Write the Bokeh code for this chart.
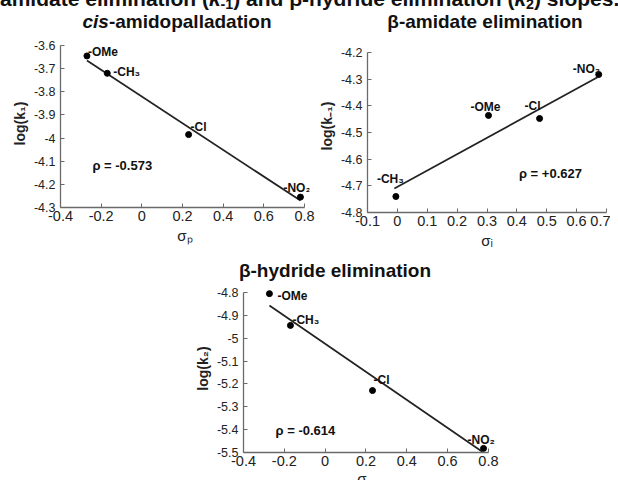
from bokeh.plotting import figure
from bokeh.layouts import column, row
from bokeh.models import Div, Spacer, FixedTicker, Label, ColumnDataSource, Range1d
from bokeh.embed import file_html
from bokeh.resources import INLINE
from bokeh.core.properties import value

FONT = "Liberation Sans"

# ---------------- data ----------------
# panel 1: cis-amidopalladation, log(k1) vs sigma_p
p1_labels = ["-OMe", "-CH\u2083", "-Cl", "-NO\u2082"]
p1_sigma = [-0.27, -0.17, 0.23, 0.78]
p1_logk = [-3.645, -3.72, -3.985, -4.255]
p1_fit_x = [-0.27, 0.78]
p1_fit_y = [-3.665, -4.27]
p1_rho = "\u03c1 = -0.573"
p1_xticks = [-0.4, -0.2, 0, 0.2, 0.4, 0.6, 0.8]
p1_xlabels = ["-0.4", "-0.2", "0", "0.2", "0.4", "0.6", "0.8"]
p1_yticks = [-4.3, -4.2, -4.1, -4.0, -3.9, -3.8, -3.7, -3.6]
p1_ylabels = ["-4.3", "-4.2", "-4.1", "-4", "-3.9", "-3.8", "-3.7", "-3.6"]

# panel 2: beta-amidate elimination, log(k-1) vs sigma_I
p2_labels = ["-CH\u2083", "-OMe", "-Cl", "-NO\u2082"]
p2_sigma = [-0.005, 0.305, 0.476, 0.674]
p2_logk = [-4.74, -4.436, -4.4475, -4.2825]
p2_fit_x = [-0.01, 0.67]
p2_fit_y = [-4.71, -4.293]
p2_rho = "\u03c1 = +0.627"
p2_xticks = [-0.1, 0, 0.1, 0.2, 0.3, 0.4, 0.5, 0.6, 0.7]
p2_xlabels = ["-0.1", "0", "0.1", "0.2", "0.3", "0.4", "0.5", "0.6", "0.7"]
p2_yticks = [-4.8, -4.7, -4.6, -4.5, -4.4, -4.3, -4.2]
p2_ylabels = ["-4.8", "-4.7", "-4.6", "-4.5", "-4.4", "-4.3", "-4.2"]

# panel 3: beta-hydride elimination, log(k2) vs sigma_p
p3_labels = ["-OMe", "-CH\u2083", "-Cl", "-NO\u2082"]
p3_sigma = [-0.273, -0.17, 0.232, 0.776]
p3_logk = [-4.805, -4.944, -5.229, -5.482]
p3_fit_x = [-0.273, 0.77]
p3_fit_y = [-4.857, -5.497]
p3_rho = "\u03c1 = -0.614"
p3_xticks = [-0.4, -0.2, 0, 0.2, 0.4, 0.6, 0.8]
p3_xlabels = ["-0.4", "-0.2", "0", "0.2", "0.4", "0.6", "0.8"]
p3_yticks = [-5.5, -5.4, -5.3, -5.2, -5.1, -5.0, -4.9, -4.8]
p3_ylabels = ["-5.5", "-5.4", "-5.3", "-5.2", "-5.1", "-5", "-4.9", "-4.8"]

# ---------------- styling / layout (pixel offsets of point labels) ----------------
p1_dx = [1, 6, 2, -17]
p1_dy = [-4, -1, -8, -9]
p2_dx = [-19, -18, -15, -26]
p2_dy = [-18, -8, -13, -6]
p3_dx = [8, 2, 1, -16]
p3_dy = [2, -5, -11, -8]

AX = "#6a6a6a"


def panel(w, h, bl, br, bt, bb, xr, yr, xticks, xlabels, yticks, ylabels,
          sig, logk, labs, dx, dy, fx, fy, ylab, xlab):
    p = figure(width=w, height=h, output_backend="svg", toolbar_location=None,
               x_range=Range1d(*xr), y_range=Range1d(*yr), margin=0,
               min_border_left=bl, min_border_right=br, min_border_top=bt, min_border_bottom=bb)
    p.grid.visible = False
    p.outline_line_color = None
    for ax in (p.xaxis[0], p.yaxis[0]):
        ax.axis_line_color = AX
        ax.axis_line_width = 1.3
        ax.major_tick_line_color = AX
        ax.major_tick_in = 4
        ax.major_tick_out = 0
        ax.minor_tick_line_color = None
        ax.major_label_text_font = FONT
        ax.major_label_text_color = "#222222"
        ax.axis_label_text_font = FONT
        ax.axis_label_text_font_style = "bold"
        ax.axis_label_text_color = "#222222"
    p.xaxis.bounds = (xr[0], xticks[-1])
    p.yaxis.bounds = (yr[0], yticks[-1])
    p.xaxis.ticker = FixedTicker(ticks=xticks)
    p.xaxis.major_label_overrides = {t: s for t, s in zip(xticks, xlabels)}
    p.yaxis.ticker = FixedTicker(ticks=yticks)
    p.yaxis.major_label_overrides = {t: s for t, s in zip(yticks, ylabels)}
    p.xaxis.major_label_text_font_size = "14.5px"
    p.yaxis.major_label_text_font_size = "12.5px"
    p.xaxis.major_label_standoff = 3
    p.yaxis.major_label_standoff = 5
    p.yaxis.axis_label = ylab
    p.yaxis.axis_label_text_font_size = "14px"
    p.yaxis.axis_label_standoff = 3
    if xlab:
        p.xaxis.axis_label = xlab
        p.xaxis.axis_label_text_font_size = "15px"
        p.xaxis.axis_label_text_font_style = "normal"
        p.xaxis.axis_label_standoff = 3

    p.line(fx, fy, line_color="#222222", line_width=1.7)
    p.scatter(sig, logk, size=6, color="black")
    src = ColumnDataSource(dict(x=sig, y=logk, t=labs, dx=dx, dy=dy))
    p.text(x="x", y="y", text="t", x_offset="dx", y_offset="dy", source=src,
           text_font=value(FONT), text_font_style="bold", text_font_size="12px",
           text_color="#111111", text_baseline="alphabetic", text_align="left")
    return p


# p1: frame 60..309 x 39..207 ; p2: frame 363..606 x 39..212 ; p3: frame 243..501 x 284..452
p1 = panel(307, 219, 52, 6, 6, 45, (-0.4, 0.8246), (-4.3, -3.574), p1_xticks, p1_xlabels,
           p1_yticks, p1_ylabels, p1_sigma, p1_logk, p1_labels, p1_dx, p1_dy,
           p1_fit_x, p1_fit_y, "log(k\u2081)", "\u03c3\u209a")
p2 = panel(295, 219, 48, 4, 6, 40, (-0.1, 0.7), (-4.8, -4.15125), p2_xticks, p2_xlabels,
           p2_yticks, p2_ylabels, p2_sigma, p2_logk, p2_labels, p2_dx, p2_dy,
           p2_fit_x, p2_fit_y, "log(k\u208b\u2081)", "\u03c3\u1d62")
p3 = panel(317, 189, 55, 4, 2, 19, (-0.4, 0.864), (-5.5, -4.765), p3_xticks, p3_xlabels,
           p3_yticks, p3_ylabels, p3_sigma, p3_logk, p3_labels, p3_dx, p3_dy,
           p3_fit_x, p3_fit_y, "log(k\u2082)", None)

lab = dict(text_font=FONT, text_font_style="bold", text_color="#111111")
p1.add_layout(Label(x=-0.243, y=-4.153, text=p1_rho, text_font_size="13px", **lab))
p2.add_layout(Label(x=0.407, y=-4.68, text=p2_rho, text_font_size="13px", **lab))
p3.add_layout(Label(x=-0.243, y=-5.435, text=p3_rho, text_font_size="13px", **lab))

TSTYLE = ("position:absolute; white-space:nowrap; transform:translateX(-50%); "
          "font-family:'Liberation Sans'; font-weight:bold; font-size:19px; line-height:19px; color:#111;")
SUB = '<span style="font-size:0.68em; vertical-align:-0.2em; line-height:0">'

t1 = Div(text=(
    '<div style="position:relative; width:602px; height:25px;">'
    '<div style="position:absolute; left:-8px; top:-20px; white-space:nowrap; '
    'font-family:\'Liberation Sans\'; font-weight:bold; font-size:21px; line-height:21px; color:#111;">'
    'amidate elimination (<i>k</i>' + SUB + '-1</span>) and \u03b2-hydride elimination '
    '(<i>k</i>' + SUB + '2</span>) slopes.</div>'
    '<div style="left:169px; top:4px; ' + TSTYLE + '"><i>cis</i>-amidopalladation</div>'
    '<div style="left:477px; top:4px; ' + TSTYLE + '">\u03b2-amidate elimination</div></div>'),
    width=602, height=25, margin=0)

t2 = Div(text=('<div style="position:relative; width:602px; height:30px;">'
               '<div style="left:327px; top:9px; ' + TSTYLE + '">\u03b2-hydride elimination</div></div>'),
         width=602, height=30, margin=0)

# x-axis label of the bottom panel, cut off by the bottom edge of the page as in the reference
t3 = Div(text=('<div style="position:relative; width:602px; height:8px; overflow:hidden;">'
               '<div style="position:absolute; left:357px; top:-4px; transform:translateX(-50%); '
               'white-space:nowrap; font-family:\'Liberation Sans\'; font-size:15px; line-height:15px; '
               'color:#222;">\u03c3\u209a</div></div>'),
         width=602, height=8, margin=0)

layout = column(t1, row(column(p1, margin=0), column(p2, margin=0), margin=0), t2,
                row(Spacer(width=180, height=189, margin=0), p3, margin=0), t3,
                margin=(8, 8, 0, 8))
open("out.html", "w").write(file_html(layout, INLINE))
